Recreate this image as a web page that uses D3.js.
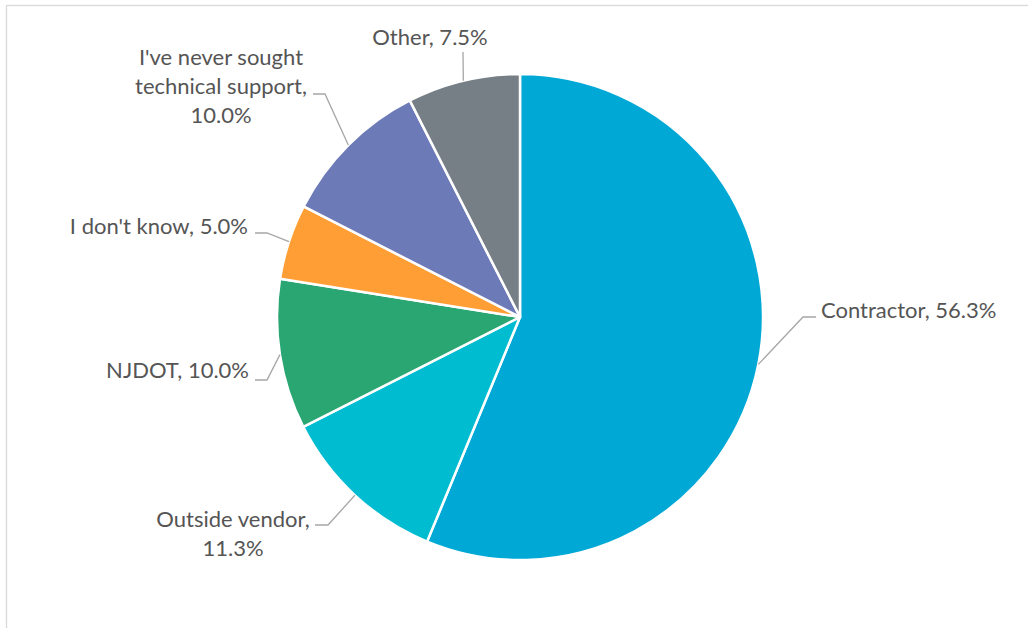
<!DOCTYPE html>
<html>
<head>
<meta charset="utf-8">
<script src="https://cdn.jsdelivr.net/npm/d3@7"></script>
<style>
  body { margin: 0; background: #fff; }
  svg { display: block; }
  .label { font-family: Lato, "Noto Sans", sans-serif; font-size: 22px; fill: #555; }
  .leader { fill: none; stroke: #a6a6a6; stroke-width: 1.3; }
</style>
</head>
<body>
<div id="chart"></div>
<script>
// data
var categories = ["Contractor", "Outside vendor", "NJDOT", "I don't know", "I've never sought technical support", "Other"];
var shares = [56.3, 11.3, 10.0, 5.0, 10.0, 7.5];
var colors = ["#00a8d6", "#00bcd1", "#2aa673", "#ff9e35", "#6c7bb8", "#767f86"];

// how each label wraps (category text, then value appended to the last line)
var labelLines = [
    ["Contractor, "],
    ["Outside vendor,", ""],
    ["NJDOT, "],
    ["I don't know, "],
    ["I've never sought", "technical support,", ""],
    ["Other, "]
];

var width = 1028, height = 628;
var cx = 520, cy = 317, radius = 243;
var lineHeight = 29;

// label placement: text anchor point and where the leader line meets the label
var labelLayout = [
    {anchor: "start",  x: 821, y: 318, end: [816, 317], elbow: [803, 317]},
    {anchor: "middle", x: 233, y: 527, end: [315, 525], elbow: [328, 525]},
    {anchor: "end",    x: 249, y: 378, end: [255, 380], elbow: [267, 380]},
    {anchor: "end",    x: 248, y: 234, end: [255, 233], elbow: [267, 233]},
    {anchor: "middle", x: 221, y: 65,  end: [313, 94],  elbow: [325, 94]},
    {anchor: "middle", x: 430, y: 45,  end: [463, 52],  elbow: [463, 52]}
];

var data = categories.map(function(c, i) {
    return {name: c, value: shares[i], color: colors[i], lines: labelLines[i], layout: labelLayout[i]};
});

var svg = d3.select("#chart").append("svg")
    .attr("width", width)
    .attr("height", height);

// chart area border
svg.append("rect")
    .attr("x", 6.5).attr("y", 5.5)
    .attr("width", width + 20).attr("height", height + 20)
    .attr("fill", "#fff")
    .attr("stroke", "#d9d9d9")
    .attr("stroke-width", 1.3);

var pie = d3.pie().sort(null).value(function(d) { return d.value; });
var arc = d3.arc().innerRadius(0).outerRadius(radius);
var arcs = pie(data);

var g = svg.append("g").attr("transform", "translate(" + cx + "," + cy + ")");

g.selectAll("path.slice").data(arcs).enter()
    .append("path")
    .attr("class", "slice")
    .attr("d", arc)
    .attr("fill", function(d) { return d.data.color; })
    .attr("stroke", "#fff")
    .attr("stroke-width", 2.5)
    .attr("stroke-linejoin", "round");

var fmt = d3.format(".1f");

// leader lines from the middle of each slice edge
svg.selectAll("path.leader").data(arcs).enter()
    .append("path")
    .attr("class", "leader")
    .attr("d", function(d) {
        var a = (d.startAngle + d.endAngle) / 2;
        var px = cx + radius * Math.sin(a);
        var py = cy - radius * Math.cos(a);
        var L = d.data.layout;
        return d3.line()([[px, py], L.elbow, L.end]);
    });

var labels = svg.selectAll("text.label").data(arcs).enter()
    .append("text")
    .attr("class", "label")
    .attr("text-anchor", function(d) { return d.data.layout.anchor; })
    .attr("x", function(d) { return d.data.layout.x; })
    .attr("y", function(d) { return d.data.layout.y; });

labels.each(function(d) {
    var t = d3.select(this);
    var lines = d.data.lines;
    lines.forEach(function(line, i) {
        var txt = line;
        if (i == lines.length - 1) txt = line + fmt(d.data.value) + "%";
        t.append("tspan")
            .attr("x", d.data.layout.x)
            .attr("dy", i == 0 ? 0 : lineHeight)
            .text(txt);
    });
});
</script>
</body>
</html>
